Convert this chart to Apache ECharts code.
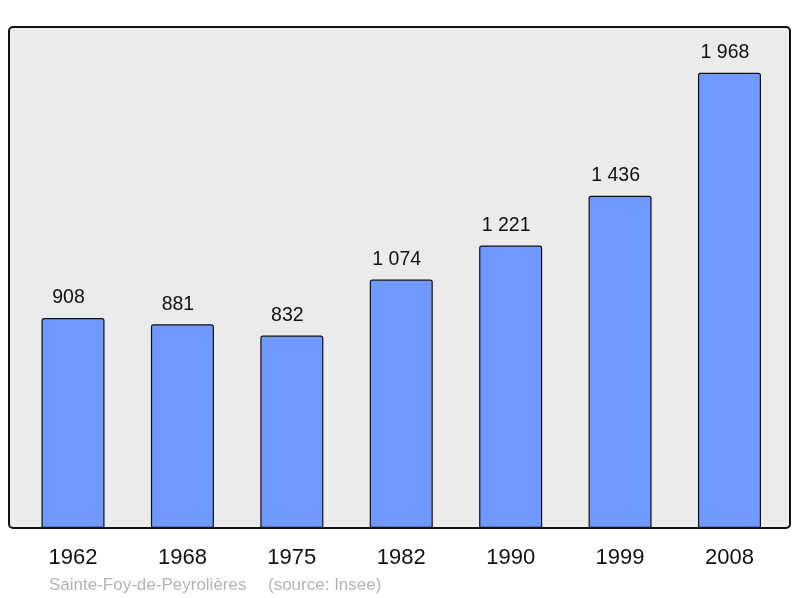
<!DOCTYPE html>
<html>
<head>
<meta charset="utf-8">
<script src="https://cdn.jsdelivr.net/npm/echarts@6/dist/echarts.min.js"></script>
<style>
    html, body {margin: 0; padding: 0; background: #fff;}
    #main {width: 800px; height: 598px;}
</style>
</head>
<body>
<div id="main"></div>
<script>
// données population
var years = ['1962', '1968', '1975', '1982', '1990', '1999', '2008'];
var population = [908, 881, 832, 1074, 1221, 1436, 1968];
var footerName = 'Sainte-Foy-de-Peyrolières';
var footerSource = '(source: Insee)';

function fmtNombre(v) {
    return String(v).replace(/\B(?=(\d{3})+(?!\d))/g, ' ');
}

var chart = echarts.init(document.getElementById('main'));

var option = {
    animation: false,
    textStyle: {fontFamily: 'Liberation Sans, Arial, sans-serif'},
    grid: {left: 18.3, right: 15.8, top: 27, bottom: 70},
    graphic: [
        {
            type: 'rect',
            z: -10,
            shape: {x: 9, y: 27, width: 781, height: 501, r: 4},
            style: {fill: '#ebebeb', stroke: null}
        },
        {
            type: 'rect',
            z: 100,
            shape: {x: 9, y: 27, width: 781, height: 501, r: 4},
            style: {fill: null, stroke: '#111', lineWidth: 2}
        },
        {
            type: 'text',
            left: 49,
            top: 577,
            style: {
                text: footerName,
                fill: '#b3b3b3',
                font: '17px Liberation Sans, Arial, sans-serif'
            }
        },
        {
            type: 'text',
            left: 268,
            top: 577,
            style: {
                text: footerSource,
                fill: '#b3b3b3',
                font: '17px Liberation Sans, Arial, sans-serif'
            }
        }
    ],
    xAxis: {
        type: 'category',
        data: years,
        axisLine: {show: false},
        axisTick: {show: false},
        axisLabel: {fontSize: 22, color: '#111', margin: 19}
    },
    yAxis: {
        type: 'value',
        min: 0,
        max: 2166,
        show: false,
        splitLine: {show: false}
    },
    series: [
        {
            type: 'bar',
            data: population,
            barWidth: '57.6%',
            itemStyle: {
                color: '#7099ff',
                borderColor: '#111',
                borderWidth: 1.2,
                borderRadius: [2, 2, 0, 0]
            },
            label: {
                show: true,
                position: 'top',
                distance: 10,
                offset: [-4.5, 0],
                fontSize: 19.5,
                color: '#111',
                formatter: function (p) {
                    return fmtNombre(p.value);
                }
            }
        }
    ]
};

chart.setOption(option);
</script>
</body>
</html>
